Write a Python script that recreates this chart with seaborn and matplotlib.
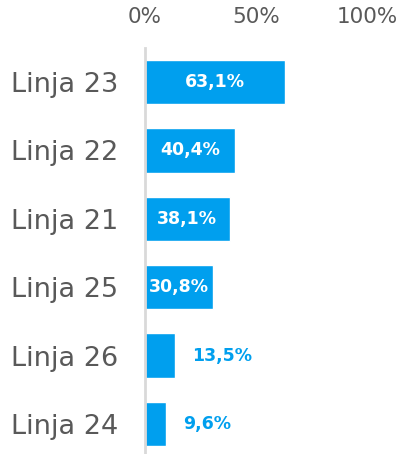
import matplotlib
matplotlib.use("Agg")
import matplotlib.pyplot as plt
import seaborn as sns
import pandas as pd

# data
lines = ["Linja 23", "Linja 22", "Linja 21", "Linja 25", "Linja 26", "Linja 24"]
shares = [0.631, 0.404, 0.381, 0.308, 0.135, 0.096]
labels = ["63,1%", "40,4%", "38,1%", "30,8%", "13,5%", "9,6%"]
ticks = [0, 0.5, 1.0]
tick_labels = ["0%", "50%", "100%"]

df = pd.DataFrame({"line": lines, "share": shares})

sns.set_style("white")
plt.rcParams['font.family'] = ['DejaVu Sans']

blue = "#009fee"
grey = "#595959"

fig = plt.figure(figsize=(4.08, 4.54), dpi=100)
ax = fig.add_axes([145/408, -4/454, 222/408, 410/454])

sns.barplot(data=df, x="share", y="line", orient="h", color=blue,
            saturation=1, width=0.65, ax=ax)

ax.set_xlim(0, 1.0)
ax.set_ylim(5.5, -0.5)
ax.set_xlabel("")
ax.set_ylabel("")
ax.xaxis.tick_top()
ax.set_xticks(ticks)
ax.set_xticklabels(tick_labels)
ax.tick_params(axis="x", length=0, pad=15, labelsize=15.5, labelcolor=grey)
ax.tick_params(axis="y", length=0, pad=19, labelsize=19.5, labelcolor=grey)

for s in ["top", "right", "bottom"]:
    ax.spines[s].set_visible(False)
ax.spines["left"].set_color("#d9d9d9")
ax.spines["left"].set_linewidth(2)

for i, (v, lab) in enumerate(zip(shares, labels)):
    if v >= 0.25:
        ax.text(v / 2, i, lab, ha="center", va="center", color="white",
                fontsize=12.5, fontweight="bold")
    else:
        ax.annotate(lab, (v, i), xytext=(12, 0), textcoords="offset points",
                    ha="left", va="center", color=blue,
                    fontsize=12.5, fontweight="bold")

fig.savefig("out.png", dpi=100)
